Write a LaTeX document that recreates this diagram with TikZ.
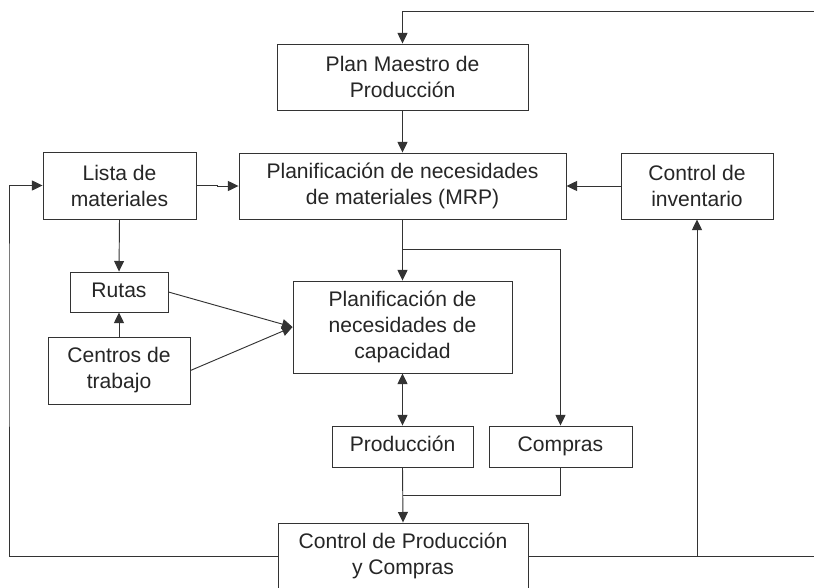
\documentclass[tikz,border=0pt]{standalone}
\usepackage{fontspec}
\setmainfont{Liberation Sans}
\usetikzlibrary{arrows.meta}

\begin{document}
\begin{tikzpicture}[x=0.03cm, y=-0.03cm,
    caja/.style={shape=rectangle, draw=black!80, line width=0.8pt, inner sep=0pt,
        align=center, font=\fontsize{18}{22.2}\selectfont, text=black!85},
    tam/.style 2 args={minimum width=#1*0.03cm, minimum height=#2*0.03cm},
    renglon/.style={text height=13pt, text depth=4pt},
    flecha/.style={draw=black!80, line width=0.8pt, -{Triangle[length=9pt,width=8.5pt]}},
    doble/.style={draw=black!80, line width=0.8pt, {Triangle[length=9pt,width=8.5pt]}-{Triangle[length=9pt,width=8.5pt]}},
    linea/.style={draw=black!80, line width=0.8pt}]
    \clip (0,0) rectangle (814,587);
    \fill[white] (0,0) rectangle (814,587);
    % cajas
    \node[caja, tam={251}{66}] at (402.5,77) (plan) {Plan Maestro de\\Producci\'on};
    \node[caja, tam={327}{66}] at (402.5,186) (mrp) {Planificaci\'on de necesidades\\de materiales (MRP)};
    \node[caja, tam={153}{67}] at (119.5,185.5) (lista) {Lista de\\materiales};
    \node[caja, tam={152}{66}] at (697,186) (inv) {Control de\\inventario};
    \node[caja, renglon, tam={98}{40}] at (119,292) (rutas) {Rutas};
    \node[caja, tam={142}{67}] at (119,370.5) (centros) {Centros de\\trabajo};
    \node[caja, tam={219}{92}] at (402.5,327) (cap) {Planificaci\'on de\\necesidades de\\capacidad};
    \node[caja, renglon, tam={141}{41}] at (402.5,446.5) (prod) {Producci\'on};
    \node[caja, renglon, tam={143}{41}] at (560.5,446.5) (compras) {Compras};
    \node[caja, tam={250}{66}] at (403,556) (control) {Control de Producci\'on\\y Compras};
    % puntos de paso
    \coordinate (arribaDer) at (814,11);
    \coordinate (abajoDer) at (814,556);
    \coordinate (izq) at (9,300);
    \coordinate (ramal) at (402.5,249);
    \coordinate (union) at (402.5,495);
    \coordinate (rama) at (697,556);
    % conexiones
    \path [flecha] (arribaDer) -| (plan.north);
    \path [flecha] (plan.south) -- (mrp.north);
    \path [flecha] (lista.east) -- ++(21,0) |- (mrp.west);
    \path [flecha] (inv.west) -- (mrp.east);
    \path [flecha] (lista.south) -- (rutas.north);
    \path [flecha] (centros.north) -- (rutas.south);
    \path [flecha] (rutas.east) -- (cap.west);
    \path [flecha] (centros.east) -- (cap.west);
    \path [flecha] (mrp.south) -- (cap.north);
    \path [flecha] (ramal) -| (compras.north);
    \path [doble] (cap.south) -- (prod.north);
    \path [linea] (compras.south) |- (union);
    \path [flecha] (prod.south) -- (control.north);
    \path [flecha] (control.west) -| (izq) |- (lista.west);
    \path [linea] (control.east) -- (abajoDer);
    \path [flecha] (rama) -- (inv.south);
\end{tikzpicture}
\end{document}
